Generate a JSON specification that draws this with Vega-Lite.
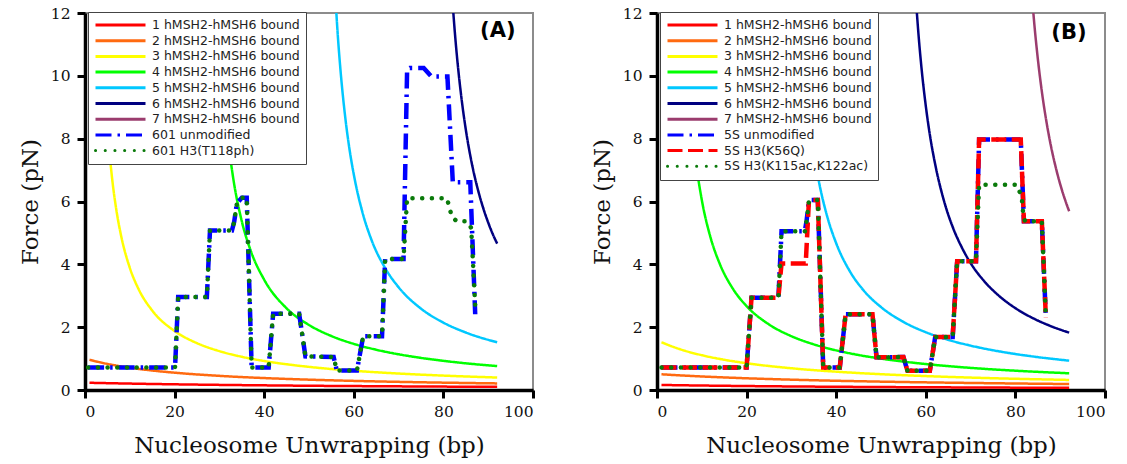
{
"$schema": "https://vega.github.io/schema/vega-lite/v6.json",
"padding": {"left": 18, "top": 5, "right": 5, "bottom": 5},
"spacing": 54,
"resolve": {"scale": {"color": "independent", "strokeDash": "independent", "x": "independent", "y": "independent"}, "legend": {"color": "independent", "strokeDash": "independent"}},
"config": {
  "view": {"stroke": "#8c8c8c", "strokeWidth": 2},
  "axis": {"domainColor": "black", "domainWidth": 3.5, "tickColor": "black", "tickWidth": 3, "tickSize": 8, "labelFont": "DejaVu Serif", "labelFontSize": 15.5, "labelColor": "#111", "titleFont": "DejaVu Serif", "titleFontSize": 23, "titleFontWeight": "normal", "titleColor": "#111", "grid": false},
  "legend": {"orient": "none", "legendX": 3, "legendY": -1, "symbolType": "stroke", "symbolSize": 2500, "clipHeight": 14, "rowPadding": 1.7, "padding": 6, "labelOffset": 5, "labelFont": "DejaVu Sans", "labelFontSize": 12.5, "labelColor": "#222", "fillColor": "white", "strokeColor": "#444", "symbolStrokeWidth": 3, "labelLimit": 400}
},
"datasets": {
"A": [
{"s":"1 hMSH2-hMSH6 bound","x":1,"f":0.230},{"s":"1 hMSH2-hMSH6 bound","x":10,"f":0.204},{"s":"1 hMSH2-hMSH6 bound","x":20,"f":0.181},{"s":"1 hMSH2-hMSH6 bound","x":30,"f":0.163},{"s":"1 hMSH2-hMSH6 bound","x":40,"f":0.148},{"s":"1 hMSH2-hMSH6 bound","x":50,"f":0.135},{"s":"1 hMSH2-hMSH6 bound","x":60,"f":0.125},{"s":"1 hMSH2-hMSH6 bound","x":70,"f":0.116},{"s":"1 hMSH2-hMSH6 bound","x":80,"f":0.108},{"s":"1 hMSH2-hMSH6 bound","x":92,"f":0.100},
{"s":"2 hMSH2-hMSH6 bound","x":1,"f":0.961},{"s":"2 hMSH2-hMSH6 bound","x":5,"f":0.831},{"s":"2 hMSH2-hMSH6 bound","x":10,"f":0.710},{"s":"2 hMSH2-hMSH6 bound","x":15,"f":0.620},{"s":"2 hMSH2-hMSH6 bound","x":20,"f":0.551},{"s":"2 hMSH2-hMSH6 bound","x":30,"f":0.450},{"s":"2 hMSH2-hMSH6 bound","x":40,"f":0.380},{"s":"2 hMSH2-hMSH6 bound","x":50,"f":0.329},{"s":"2 hMSH2-hMSH6 bound","x":60,"f":0.290},{"s":"2 hMSH2-hMSH6 bound","x":70,"f":0.259},{"s":"2 hMSH2-hMSH6 bound","x":80,"f":0.234},{"s":"2 hMSH2-hMSH6 bound","x":92,"f":0.210},
{"s":"3 hMSH2-hMSH6 bound","x":3.5,"f":12.78},{"s":"3 hMSH2-hMSH6 bound","x":4,"f":10.87},{"s":"3 hMSH2-hMSH6 bound","x":5,"f":8.36},{"s":"3 hMSH2-hMSH6 bound","x":6,"f":6.80},{"s":"3 hMSH2-hMSH6 bound","x":7,"f":5.73},{"s":"3 hMSH2-hMSH6 bound","x":8,"f":4.95},{"s":"3 hMSH2-hMSH6 bound","x":10,"f":3.89},{"s":"3 hMSH2-hMSH6 bound","x":12,"f":3.20},{"s":"3 hMSH2-hMSH6 bound","x":15,"f":2.53},{"s":"3 hMSH2-hMSH6 bound","x":20,"f":1.877},{"s":"3 hMSH2-hMSH6 bound","x":25,"f":1.491},{"s":"3 hMSH2-hMSH6 bound","x":30,"f":1.237},{"s":"3 hMSH2-hMSH6 bound","x":35,"f":1.057},{"s":"3 hMSH2-hMSH6 bound","x":40,"f":0.923},{"s":"3 hMSH2-hMSH6 bound","x":45,"f":0.819},{"s":"3 hMSH2-hMSH6 bound","x":50,"f":0.736},{"s":"3 hMSH2-hMSH6 bound","x":60,"f":0.612},{"s":"3 hMSH2-hMSH6 bound","x":70,"f":0.524},{"s":"3 hMSH2-hMSH6 bound","x":80,"f":0.458},{"s":"3 hMSH2-hMSH6 bound","x":92,"f":0.397},
{"s":"4 hMSH2-hMSH6 bound","x":29.5,"f":12.95},{"s":"4 hMSH2-hMSH6 bound","x":30,"f":11.48},{"s":"4 hMSH2-hMSH6 bound","x":31,"f":9.35},{"s":"4 hMSH2-hMSH6 bound","x":32,"f":7.89},{"s":"4 hMSH2-hMSH6 bound","x":33,"f":6.82},{"s":"4 hMSH2-hMSH6 bound","x":35,"f":5.37},{"s":"4 hMSH2-hMSH6 bound","x":37,"f":4.43},{"s":"4 hMSH2-hMSH6 bound","x":40,"f":3.51},{"s":"4 hMSH2-hMSH6 bound","x":45,"f":2.60},{"s":"4 hMSH2-hMSH6 bound","x":50,"f":2.07},{"s":"4 hMSH2-hMSH6 bound","x":55,"f":1.718},{"s":"4 hMSH2-hMSH6 bound","x":60,"f":1.468},{"s":"4 hMSH2-hMSH6 bound","x":65,"f":1.282},{"s":"4 hMSH2-hMSH6 bound","x":70,"f":1.137},{"s":"4 hMSH2-hMSH6 bound","x":75,"f":1.022},{"s":"4 hMSH2-hMSH6 bound","x":80,"f":0.928},{"s":"4 hMSH2-hMSH6 bound","x":85,"f":0.850},{"s":"4 hMSH2-hMSH6 bound","x":92,"f":0.761},
{"s":"5 hMSH2-hMSH6 bound","x":55.8,"f":12.73},{"s":"5 hMSH2-hMSH6 bound","x":56.5,"f":11.14},{"s":"5 hMSH2-hMSH6 bound","x":57,"f":10.23},{"s":"5 hMSH2-hMSH6 bound","x":58,"f":8.79},{"s":"5 hMSH2-hMSH6 bound","x":59,"f":7.70},{"s":"5 hMSH2-hMSH6 bound","x":60,"f":6.86},{"s":"5 hMSH2-hMSH6 bound","x":62,"f":5.62},{"s":"5 hMSH2-hMSH6 bound","x":64,"f":4.76},{"s":"5 hMSH2-hMSH6 bound","x":67,"f":3.88},{"s":"5 hMSH2-hMSH6 bound","x":70,"f":3.27},{"s":"5 hMSH2-hMSH6 bound","x":75,"f":2.59},{"s":"5 hMSH2-hMSH6 bound","x":80,"f":2.144},{"s":"5 hMSH2-hMSH6 bound","x":85,"f":1.830},{"s":"5 hMSH2-hMSH6 bound","x":92,"f":1.518},
{"s":"6 hMSH2-hMSH6 bound","x":81.9,"f":12.64},{"s":"6 hMSH2-hMSH6 bound","x":82.5,"f":11.48},{"s":"6 hMSH2-hMSH6 bound","x":83,"f":10.66},{"s":"6 hMSH2-hMSH6 bound","x":84,"f":9.33},{"s":"6 hMSH2-hMSH6 bound","x":85,"f":8.29},{"s":"6 hMSH2-hMSH6 bound","x":86,"f":7.46},{"s":"6 hMSH2-hMSH6 bound","x":87,"f":6.78},{"s":"6 hMSH2-hMSH6 bound","x":88,"f":6.22},{"s":"6 hMSH2-hMSH6 bound","x":89,"f":5.74},{"s":"6 hMSH2-hMSH6 bound","x":90,"f":5.33},{"s":"6 hMSH2-hMSH6 bound","x":91,"f":4.97},{"s":"6 hMSH2-hMSH6 bound","x":92,"f":4.66},
{"s":"601 unmodified","x":0.7,"f":0.72},{"s":"601 unmodified","x":20.1,"f":0.72},{"s":"601 unmodified","x":20.8,"f":2.96},{"s":"601 unmodified","x":27.2,"f":2.96},{"s":"601 unmodified","x":27.9,"f":5.08},{"s":"601 unmodified","x":32.8,"f":5.08},{"s":"601 unmodified","x":33.3,"f":5.35},{"s":"601 unmodified","x":33.9,"f":5.94},{"s":"601 unmodified","x":35.0,"f":6.12},{"s":"601 unmodified","x":36.1,"f":6.12},{"s":"601 unmodified","x":37.2,"f":0.72},{"s":"601 unmodified","x":41.0,"f":0.72},{"s":"601 unmodified","x":42.0,"f":2.43},{"s":"601 unmodified","x":47.8,"f":2.43},{"s":"601 unmodified","x":49.2,"f":1.07},{"s":"601 unmodified","x":55.5,"f":1.05},{"s":"601 unmodified","x":56.2,"f":0.62},{"s":"601 unmodified","x":60.7,"f":0.62},{"s":"601 unmodified","x":62.1,"f":1.71},{"s":"601 unmodified","x":66.3,"f":1.71},{"s":"601 unmodified","x":67.0,"f":4.17},{"s":"601 unmodified","x":71.1,"f":4.17},{"s":"601 unmodified","x":71.9,"f":10.2},{"s":"601 unmodified","x":72.5,"f":10.25},{"s":"601 unmodified","x":75.6,"f":10.25},{"s":"601 unmodified","x":77.3,"f":9.98},{"s":"601 unmodified","x":80.9,"f":9.98},{"s":"601 unmodified","x":82.1,"f":6.61},{"s":"601 unmodified","x":86.0,"f":6.61},{"s":"601 unmodified","x":87.1,"f":2.41},
{"s":"601 H3(T118ph)","x":0.7,"f":0.72},{"s":"601 H3(T118ph)","x":20.1,"f":0.72},{"s":"601 H3(T118ph)","x":20.8,"f":2.96},{"s":"601 H3(T118ph)","x":27.2,"f":2.96},{"s":"601 H3(T118ph)","x":27.9,"f":5.08},{"s":"601 H3(T118ph)","x":32.8,"f":5.08},{"s":"601 H3(T118ph)","x":33.3,"f":5.35},{"s":"601 H3(T118ph)","x":33.9,"f":5.94},{"s":"601 H3(T118ph)","x":35.0,"f":6.12},{"s":"601 H3(T118ph)","x":36.1,"f":6.12},{"s":"601 H3(T118ph)","x":37.2,"f":0.72},{"s":"601 H3(T118ph)","x":41.0,"f":0.72},{"s":"601 H3(T118ph)","x":42.0,"f":2.43},{"s":"601 H3(T118ph)","x":47.8,"f":2.43},{"s":"601 H3(T118ph)","x":49.2,"f":1.07},{"s":"601 H3(T118ph)","x":55.5,"f":1.05},{"s":"601 H3(T118ph)","x":56.2,"f":0.62},{"s":"601 H3(T118ph)","x":60.7,"f":0.62},{"s":"601 H3(T118ph)","x":62.1,"f":1.71},{"s":"601 H3(T118ph)","x":66.3,"f":1.71},{"s":"601 H3(T118ph)","x":67.0,"f":4.17},{"s":"601 H3(T118ph)","x":71.1,"f":4.17},{"s":"601 H3(T118ph)","x":71.9,"f":6.10},{"s":"601 H3(T118ph)","x":80.8,"f":6.10},{"s":"601 H3(T118ph)","x":81.9,"f":5.51},{"s":"601 H3(T118ph)","x":83.0,"f":5.37},{"s":"601 H3(T118ph)","x":85.3,"f":5.37},{"s":"601 H3(T118ph)","x":86.2,"f":5.16},{"s":"601 H3(T118ph)","x":87.2,"f":2.41}
],
"B": [
{"s":"1 hMSH2-hMSH6 bound","x":1,"f":0.160},{"s":"1 hMSH2-hMSH6 bound","x":10,"f":0.142},{"s":"1 hMSH2-hMSH6 bound","x":20,"f":0.126},{"s":"1 hMSH2-hMSH6 bound","x":30,"f":0.113},{"s":"1 hMSH2-hMSH6 bound","x":40,"f":0.103},{"s":"1 hMSH2-hMSH6 bound","x":50,"f":0.094},{"s":"1 hMSH2-hMSH6 bound","x":60,"f":0.087},{"s":"1 hMSH2-hMSH6 bound","x":70,"f":0.081},{"s":"1 hMSH2-hMSH6 bound","x":80,"f":0.075},{"s":"1 hMSH2-hMSH6 bound","x":92,"f":0.070},
{"s":"2 hMSH2-hMSH6 bound","x":1,"f":0.500},{"s":"2 hMSH2-hMSH6 bound","x":5,"f":0.467},{"s":"2 hMSH2-hMSH6 bound","x":10,"f":0.431},{"s":"2 hMSH2-hMSH6 bound","x":20,"f":0.373},{"s":"2 hMSH2-hMSH6 bound","x":30,"f":0.329},{"s":"2 hMSH2-hMSH6 bound","x":40,"f":0.294},{"s":"2 hMSH2-hMSH6 bound","x":50,"f":0.266},{"s":"2 hMSH2-hMSH6 bound","x":60,"f":0.243},{"s":"2 hMSH2-hMSH6 bound","x":70,"f":0.224},{"s":"2 hMSH2-hMSH6 bound","x":80,"f":0.207},{"s":"2 hMSH2-hMSH6 bound","x":92,"f":0.190},
{"s":"3 hMSH2-hMSH6 bound","x":1,"f":1.519},{"s":"3 hMSH2-hMSH6 bound","x":5,"f":1.304},{"s":"3 hMSH2-hMSH6 bound","x":10,"f":1.108},{"s":"3 hMSH2-hMSH6 bound","x":15,"f":0.963},{"s":"3 hMSH2-hMSH6 bound","x":20,"f":0.852},{"s":"3 hMSH2-hMSH6 bound","x":30,"f":0.692},{"s":"3 hMSH2-hMSH6 bound","x":40,"f":0.583},{"s":"3 hMSH2-hMSH6 bound","x":50,"f":0.503},{"s":"3 hMSH2-hMSH6 bound","x":60,"f":0.443},{"s":"3 hMSH2-hMSH6 bound","x":70,"f":0.395},{"s":"3 hMSH2-hMSH6 bound","x":80,"f":0.357},{"s":"3 hMSH2-hMSH6 bound","x":92,"f":0.320},
{"s":"4 hMSH2-hMSH6 bound","x":5.8,"f":12.92},{"s":"4 hMSH2-hMSH6 bound","x":6.5,"f":10.86},{"s":"4 hMSH2-hMSH6 bound","x":7,"f":9.76},{"s":"4 hMSH2-hMSH6 bound","x":8,"f":8.10},{"s":"4 hMSH2-hMSH6 bound","x":9,"f":6.93},{"s":"4 hMSH2-hMSH6 bound","x":10,"f":6.05},{"s":"4 hMSH2-hMSH6 bound","x":12,"f":4.83},{"s":"4 hMSH2-hMSH6 bound","x":14,"f":4.02},{"s":"4 hMSH2-hMSH6 bound","x":17,"f":3.21},{"s":"4 hMSH2-hMSH6 bound","x":20,"f":2.67},{"s":"4 hMSH2-hMSH6 bound","x":25,"f":2.087},{"s":"4 hMSH2-hMSH6 bound","x":30,"f":1.713},{"s":"4 hMSH2-hMSH6 bound","x":35,"f":1.453},{"s":"4 hMSH2-hMSH6 bound","x":40,"f":1.261},{"s":"4 hMSH2-hMSH6 bound","x":45,"f":1.114},{"s":"4 hMSH2-hMSH6 bound","x":50,"f":0.998},{"s":"4 hMSH2-hMSH6 bound","x":60,"f":0.826},{"s":"4 hMSH2-hMSH6 bound","x":70,"f":0.704},{"s":"4 hMSH2-hMSH6 bound","x":80,"f":0.614},{"s":"4 hMSH2-hMSH6 bound","x":92,"f":0.532},
{"s":"5 hMSH2-hMSH6 bound","x":31.8,"f":12.65},{"s":"5 hMSH2-hMSH6 bound","x":32.5,"f":11.04},{"s":"5 hMSH2-hMSH6 bound","x":33,"f":10.12},{"s":"5 hMSH2-hMSH6 bound","x":34,"f":8.67},{"s":"5 hMSH2-hMSH6 bound","x":35,"f":7.59},{"s":"5 hMSH2-hMSH6 bound","x":36,"f":6.74},{"s":"5 hMSH2-hMSH6 bound","x":38,"f":5.52},{"s":"5 hMSH2-hMSH6 bound","x":40,"f":4.67},{"s":"5 hMSH2-hMSH6 bound","x":43,"f":3.79},{"s":"5 hMSH2-hMSH6 bound","x":46,"f":3.19},{"s":"5 hMSH2-hMSH6 bound","x":50,"f":2.64},{"s":"5 hMSH2-hMSH6 bound","x":55,"f":2.168},{"s":"5 hMSH2-hMSH6 bound","x":60,"f":1.839},{"s":"5 hMSH2-hMSH6 bound","x":65,"f":1.597},{"s":"5 hMSH2-hMSH6 bound","x":70,"f":1.412},{"s":"5 hMSH2-hMSH6 bound","x":75,"f":1.265},{"s":"5 hMSH2-hMSH6 bound","x":80,"f":1.145},{"s":"5 hMSH2-hMSH6 bound","x":85,"f":1.047},{"s":"5 hMSH2-hMSH6 bound","x":92,"f":0.934},
{"s":"6 hMSH2-hMSH6 bound","x":57.7,"f":12.62},{"s":"6 hMSH2-hMSH6 bound","x":58.5,"f":11.09},{"s":"6 hMSH2-hMSH6 bound","x":59,"f":10.31},{"s":"6 hMSH2-hMSH6 bound","x":60,"f":9.04},{"s":"6 hMSH2-hMSH6 bound","x":61,"f":8.04},{"s":"6 hMSH2-hMSH6 bound","x":62,"f":7.25},{"s":"6 hMSH2-hMSH6 bound","x":64,"f":6.05},{"s":"6 hMSH2-hMSH6 bound","x":66,"f":5.19},{"s":"6 hMSH2-hMSH6 bound","x":68,"f":4.55},{"s":"6 hMSH2-hMSH6 bound","x":70,"f":4.04},{"s":"6 hMSH2-hMSH6 bound","x":73,"f":3.47},{"s":"6 hMSH2-hMSH6 bound","x":76,"f":3.04},{"s":"6 hMSH2-hMSH6 bound","x":80,"f":2.605},{"s":"6 hMSH2-hMSH6 bound","x":84,"f":2.280},{"s":"6 hMSH2-hMSH6 bound","x":88,"f":2.028},{"s":"6 hMSH2-hMSH6 bound","x":92,"f":1.825},
{"s":"7 hMSH2-hMSH6 bound","x":83.7,"f":12.54},{"s":"7 hMSH2-hMSH6 bound","x":84.3,"f":11.53},{"s":"7 hMSH2-hMSH6 bound","x":85,"f":10.55},{"s":"7 hMSH2-hMSH6 bound","x":86,"f":9.40},{"s":"7 hMSH2-hMSH6 bound","x":87,"f":8.48},{"s":"7 hMSH2-hMSH6 bound","x":88,"f":7.72},{"s":"7 hMSH2-hMSH6 bound","x":89,"f":7.09},{"s":"7 hMSH2-hMSH6 bound","x":90,"f":6.55},{"s":"7 hMSH2-hMSH6 bound","x":91,"f":6.09},{"s":"7 hMSH2-hMSH6 bound","x":92,"f":5.69},
{"s":"5S unmodified","x":1.0,"f":0.72},{"s":"5S unmodified","x":20.0,"f":0.72},{"s":"5S unmodified","x":21.1,"f":2.94},{"s":"5S unmodified","x":27.1,"f":2.94},{"s":"5S unmodified","x":27.8,"f":5.05},{"s":"5S unmodified","x":33.0,"f":5.05},{"s":"5S unmodified","x":33.4,"f":5.40},{"s":"5S unmodified","x":33.9,"f":5.99},{"s":"5S unmodified","x":34.3,"f":6.05},{"s":"5S unmodified","x":35.9,"f":6.05},{"s":"5S unmodified","x":37.1,"f":0.72},{"s":"5S unmodified","x":40.8,"f":0.72},{"s":"5S unmodified","x":42.1,"f":2.41},{"s":"5S unmodified","x":48.1,"f":2.41},{"s":"5S unmodified","x":49.0,"f":1.04},{"s":"5S unmodified","x":55.0,"f":1.05},{"s":"5S unmodified","x":55.9,"f":0.61},{"s":"5S unmodified","x":60.9,"f":0.61},{"s":"5S unmodified","x":62.1,"f":1.69},{"s":"5S unmodified","x":66.0,"f":1.69},{"s":"5S unmodified","x":67.0,"f":4.10},{"s":"5S unmodified","x":71.2,"f":4.10},{"s":"5S unmodified","x":71.9,"f":7.97},{"s":"5S unmodified","x":81.2,"f":7.97},{"s":"5S unmodified","x":81.9,"f":5.37},{"s":"5S unmodified","x":85.9,"f":5.37},{"s":"5S unmodified","x":86.8,"f":2.30},
{"s":"5S H3(K56Q)","x":1.0,"f":0.72},{"s":"5S H3(K56Q)","x":20.0,"f":0.72},{"s":"5S H3(K56Q)","x":21.1,"f":2.94},{"s":"5S H3(K56Q)","x":27.1,"f":2.94},{"s":"5S H3(K56Q)","x":27.8,"f":4.03},{"s":"5S H3(K56Q)","x":33.2,"f":4.03},{"s":"5S H3(K56Q)","x":33.9,"f":5.99},{"s":"5S H3(K56Q)","x":34.3,"f":6.05},{"s":"5S H3(K56Q)","x":35.9,"f":6.05},{"s":"5S H3(K56Q)","x":37.1,"f":0.72},{"s":"5S H3(K56Q)","x":40.8,"f":0.72},{"s":"5S H3(K56Q)","x":42.1,"f":2.41},{"s":"5S H3(K56Q)","x":48.1,"f":2.41},{"s":"5S H3(K56Q)","x":49.0,"f":1.04},{"s":"5S H3(K56Q)","x":55.0,"f":1.05},{"s":"5S H3(K56Q)","x":55.9,"f":0.61},{"s":"5S H3(K56Q)","x":60.9,"f":0.61},{"s":"5S H3(K56Q)","x":62.1,"f":1.69},{"s":"5S H3(K56Q)","x":66.0,"f":1.69},{"s":"5S H3(K56Q)","x":67.0,"f":4.10},{"s":"5S H3(K56Q)","x":71.2,"f":4.10},{"s":"5S H3(K56Q)","x":71.9,"f":7.97},{"s":"5S H3(K56Q)","x":81.2,"f":7.97},{"s":"5S H3(K56Q)","x":81.9,"f":5.37},{"s":"5S H3(K56Q)","x":85.9,"f":5.37},{"s":"5S H3(K56Q)","x":86.8,"f":2.30},
{"s":"5S H3(K115ac,K122ac)","x":1.0,"f":0.72},{"s":"5S H3(K115ac,K122ac)","x":20.0,"f":0.72},{"s":"5S H3(K115ac,K122ac)","x":21.1,"f":2.94},{"s":"5S H3(K115ac,K122ac)","x":27.1,"f":2.94},{"s":"5S H3(K115ac,K122ac)","x":27.8,"f":5.05},{"s":"5S H3(K115ac,K122ac)","x":33.0,"f":5.05},{"s":"5S H3(K115ac,K122ac)","x":33.4,"f":5.40},{"s":"5S H3(K115ac,K122ac)","x":33.9,"f":5.99},{"s":"5S H3(K115ac,K122ac)","x":34.3,"f":6.05},{"s":"5S H3(K115ac,K122ac)","x":35.9,"f":6.05},{"s":"5S H3(K115ac,K122ac)","x":37.1,"f":0.72},{"s":"5S H3(K115ac,K122ac)","x":40.8,"f":0.72},{"s":"5S H3(K115ac,K122ac)","x":42.1,"f":2.41},{"s":"5S H3(K115ac,K122ac)","x":48.1,"f":2.41},{"s":"5S H3(K115ac,K122ac)","x":49.0,"f":1.04},{"s":"5S H3(K115ac,K122ac)","x":55.0,"f":1.05},{"s":"5S H3(K115ac,K122ac)","x":55.9,"f":0.61},{"s":"5S H3(K115ac,K122ac)","x":60.9,"f":0.61},{"s":"5S H3(K115ac,K122ac)","x":62.1,"f":1.69},{"s":"5S H3(K115ac,K122ac)","x":66.0,"f":1.69},{"s":"5S H3(K115ac,K122ac)","x":67.0,"f":4.10},{"s":"5S H3(K115ac,K122ac)","x":71.2,"f":4.10},{"s":"5S H3(K115ac,K122ac)","x":71.9,"f":6.53},{"s":"5S H3(K115ac,K122ac)","x":80.3,"f":6.53},{"s":"5S H3(K115ac,K122ac)","x":81.4,"f":6.15},{"s":"5S H3(K115ac,K122ac)","x":81.8,"f":5.51},{"s":"5S H3(K115ac,K122ac)","x":82.2,"f":5.37},{"s":"5S H3(K115ac,K122ac)","x":85.9,"f":5.37},{"s":"5S H3(K115ac,K122ac)","x":86.8,"f":2.30}
]
},
"hconcat": [
{
  "width": 448, "height": 377,
  "data": {"name": "A"},
  "title": {"text": "(A)", "orient": "top", "anchor": "end", "baseline": "top", "offset": -35, "dx": -19, "font": "DejaVu Sans", "fontSize": 21, "fontWeight": "bold", "color": "black"},
  "encoding": {
    "x": {"field": "x", "type": "quantitative", "scale": {"domain": [0, 100], "nice": false}, "axis": {"values": [0,20,40,60,80,100], "title": "Nucleosome Unwrapping (bp)", "labelPadding": 6, "titlePadding": 15}},
    "y": {"field": "f", "type": "quantitative", "scale": {"domain": [0, 12], "nice": false}, "axis": {"values": [0,2,4,6,8,10,12], "title": "Force (pN)", "labelPadding": 7, "titlePadding": 8}},
    "color": {"field": "s", "type": "nominal", "scale": {"domain": ["1 hMSH2-hMSH6 bound","2 hMSH2-hMSH6 bound","3 hMSH2-hMSH6 bound","4 hMSH2-hMSH6 bound","5 hMSH2-hMSH6 bound","6 hMSH2-hMSH6 bound","7 hMSH2-hMSH6 bound","601 unmodified","601 H3(T118ph)"], "range": ["#ff0000","#ff6a10","#ffff00","#00ff00","#00c8ff","#000080","#9b3c6e","#0000ff","#0a7a0a"]}, "legend": {"title": null, "encode": {"symbols": {"update": {"strokeCap": {"signal": "indexof(datum.value, 'T118') >= 0 ? 'round' : 'butt'"}}}}}},
    "strokeDash": {"field": "s", "type": "nominal", "scale": {"domain": ["1 hMSH2-hMSH6 bound","2 hMSH2-hMSH6 bound","3 hMSH2-hMSH6 bound","4 hMSH2-hMSH6 bound","5 hMSH2-hMSH6 bound","6 hMSH2-hMSH6 bound","7 hMSH2-hMSH6 bound","601 unmodified","601 H3(T118ph)"], "range": [[1,0],[1,0],[1,0],[1,0],[1,0],[1,0],[1,0],[16,6,2.5,6],[0.1,9.6]]}, "legend": {"title": null, "encode": {"symbols": {"update": {"strokeCap": {"signal": "indexof(datum.value, 'T118') >= 0 ? 'round' : 'butt'"}}}}}}
  },
  "layer": [
    {"transform": [{"filter": "indexof(datum.s, 'bound') >= 0"}], "mark": {"type": "line", "strokeWidth": 2.5, "interpolate": "monotone", "clip": true}},
    {"transform": [{"filter": "datum.s === '601 unmodified'"}], "mark": {"type": "line", "strokeWidth": 4.5, "clip": true}},
    {"transform": [{"filter": "datum.s === '601 H3(T118ph)'"}], "mark": {"type": "line", "strokeWidth": 4.5, "strokeCap": "round", "clip": true}}
  ]
},
{
  "width": 448, "height": 377,
  "data": {"name": "B"},
  "title": {"text": "(B)", "orient": "top", "anchor": "end", "baseline": "top", "offset": -37, "dx": -20, "font": "DejaVu Sans", "fontSize": 21, "fontWeight": "bold", "color": "black"},
  "encoding": {
    "x": {"field": "x", "type": "quantitative", "scale": {"domain": [0, 100], "nice": false}, "axis": {"values": [0,20,40,60,80,100], "title": "Nucleosome Unwrapping (bp)", "labelPadding": 6, "titlePadding": 15}},
    "y": {"field": "f", "type": "quantitative", "scale": {"domain": [0, 12], "nice": false}, "axis": {"values": [0,2,4,6,8,10,12], "title": "Force (pN)", "labelPadding": 7, "titlePadding": 8}},
    "color": {"field": "s", "type": "nominal", "scale": {"domain": ["1 hMSH2-hMSH6 bound","2 hMSH2-hMSH6 bound","3 hMSH2-hMSH6 bound","4 hMSH2-hMSH6 bound","5 hMSH2-hMSH6 bound","6 hMSH2-hMSH6 bound","7 hMSH2-hMSH6 bound","5S unmodified","5S H3(K56Q)","5S H3(K115ac,K122ac)"], "range": ["#ff0000","#ff6a10","#ffff00","#00ff00","#00c8ff","#000080","#9b3c6e","#0000ff","#ff0000","#0a7a0a"]}, "legend": {"title": null, "encode": {"symbols": {"update": {"strokeCap": {"signal": "indexof(datum.value, 'K115') >= 0 ? 'round' : 'butt'"}}}}}},
    "strokeDash": {"field": "s", "type": "nominal", "scale": {"domain": ["1 hMSH2-hMSH6 bound","2 hMSH2-hMSH6 bound","3 hMSH2-hMSH6 bound","4 hMSH2-hMSH6 bound","5 hMSH2-hMSH6 bound","6 hMSH2-hMSH6 bound","7 hMSH2-hMSH6 bound","5S unmodified","5S H3(K56Q)","5S H3(K115ac,K122ac)"], "range": [[1,0],[1,0],[1,0],[1,0],[1,0],[1,0],[1,0],[16,6,2.5,6],[15,5.5],[0.1,9.6]]}, "legend": {"title": null, "encode": {"symbols": {"update": {"strokeCap": {"signal": "indexof(datum.value, 'K115') >= 0 ? 'round' : 'butt'"}}}}}}
  },
  "layer": [
    {"transform": [{"filter": "indexof(datum.s, 'bound') >= 0"}], "mark": {"type": "line", "strokeWidth": 2.5, "interpolate": "monotone", "clip": true}},
    {"transform": [{"filter": "datum.s === '5S unmodified'"}], "mark": {"type": "line", "strokeWidth": 4.5, "clip": true}},
    {"transform": [{"filter": "datum.s === '5S H3(K56Q)'"}], "mark": {"type": "line", "strokeWidth": 4.5, "clip": true}},
    {"transform": [{"filter": "datum.s === '5S H3(K115ac,K122ac)'"}], "mark": {"type": "line", "strokeWidth": 4.5, "strokeCap": "round", "clip": true}}
  ]
}
]
}
